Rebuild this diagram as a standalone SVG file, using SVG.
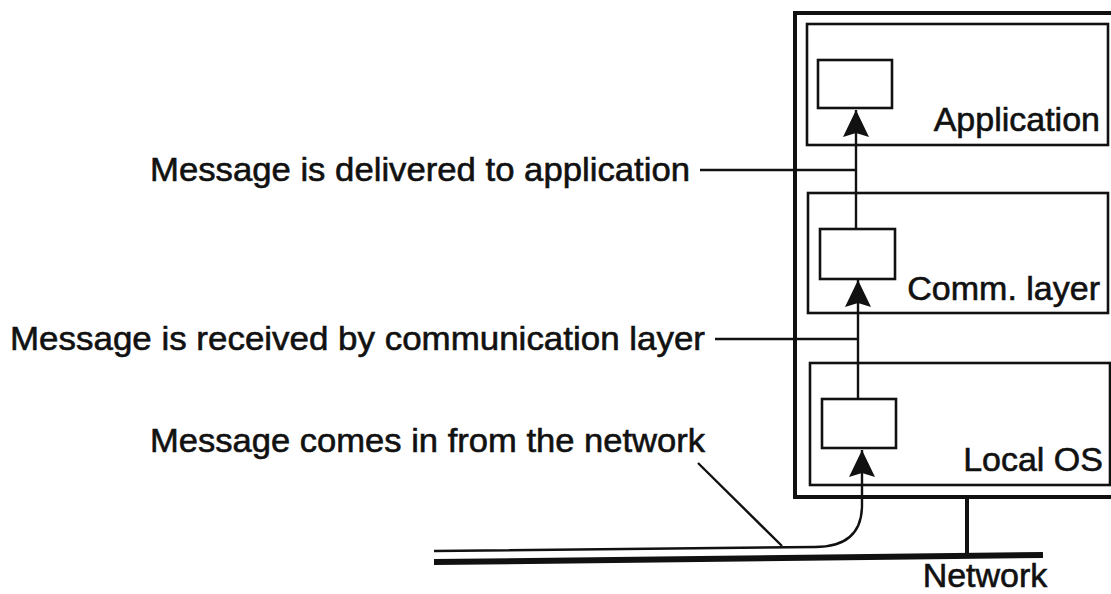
<svg xmlns="http://www.w3.org/2000/svg" width="1111" height="594" viewBox="0 0 1111 594">
<defs>
<style>
.txt{font-family:"Liberation Sans",Arial,sans-serif;font-size:34px;fill:#111;stroke:#111;stroke-width:0.6}
.box{fill:none;stroke:#111;stroke-width:2.6}
.ln{fill:none;stroke:#111;stroke-width:2.4}
</style>
<marker id="ah" markerUnits="userSpaceOnUse" markerWidth="30" markerHeight="30" viewBox="0 0 30 30" refX="28" refY="15" orient="auto">
<path d="M28 15 L1 2 L5 15 L1 28 Z" fill="#111"/>
</marker>
</defs>
<rect width="1111" height="594" fill="#fff"/>
<g id="host">
<rect x="795" y="13" width="330" height="484" fill="none" stroke="#111" stroke-width="4"/>
</g>
<g id="application">
<rect class="box" x="807" y="24" width="301" height="121"/>
<rect class="box" x="818" y="60" width="74" height="48"/>
<text class="txt" x="1100" y="131" text-anchor="end">Application</text>
</g>
<g id="comm">
<rect class="box" x="808" y="193" width="300" height="120"/>
<rect class="box" x="820" y="229" width="75" height="50"/>
<text class="txt" x="1100" y="300" text-anchor="end">Comm. layer</text>
</g>
<g id="localos">
<rect class="box" x="810" y="363" width="300" height="122"/>
<rect class="box" x="822" y="399" width="74" height="49"/>
<text class="txt" x="1103" y="471" text-anchor="end">Local OS</text>
</g>
<g id="network">
<line x1="434" y1="562" x2="1043" y2="555" stroke="#111" stroke-width="6"/>
<line x1="967" y1="497" x2="967" y2="556" stroke="#111" stroke-width="4"/>
<text class="txt" x="985" y="587" text-anchor="middle">Network</text>
</g>
<g id="labels">
<text class="txt" x="150" y="181" textLength="540" lengthAdjust="spacingAndGlyphs">Message is delivered to application</text>
<text class="txt" x="10" y="350" textLength="695" lengthAdjust="spacingAndGlyphs">Message is received by communication layer</text>
<text class="txt" x="150" y="452" textLength="555" lengthAdjust="spacingAndGlyphs">Message comes in from the network</text>
</g>
<g id="connectors">
<line class="ln" x1="856" y1="229" x2="856" y2="110" marker-end="url(#ah)"/>
<line class="ln" x1="858" y1="399" x2="858" y2="280" marker-end="url(#ah)"/>
<path class="ln" d="M434 551 L815 547 Q862 547 862 505 L862 450" marker-end="url(#ah)"/>
<line class="ln" x1="700" y1="170" x2="856" y2="170"/>
<line class="ln" x1="715" y1="339" x2="858" y2="339"/>
<line class="ln" x1="698" y1="463" x2="782" y2="546"/>
</g>
</svg>
